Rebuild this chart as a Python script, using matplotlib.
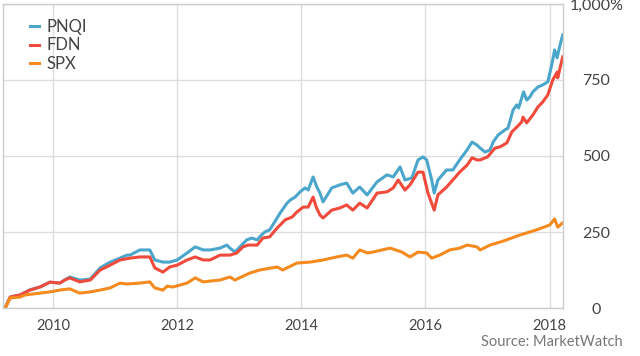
import matplotlib.pyplot as plt

plt.rcParams['font.family'] = ['Lato', 'DejaVu Sans']

# cumulative return in %, dates as decimal years
pnqi_t = [2009.23, 2009.31, 2009.47, 2009.63, 2009.79, 2009.95, 2010.11, 2010.27, 2010.43,
          2010.60, 2010.76, 2010.92, 2011.08, 2011.19, 2011.24, 2011.40, 2011.56, 2011.64,
          2011.77, 2011.88, 2012.00, 2012.16, 2012.29, 2012.42, 2012.53, 2012.69, 2012.80,
          2012.85, 2012.93, 2013.01, 2013.12, 2013.20, 2013.29, 2013.33, 2013.41, 2013.49,
          2013.57, 2013.66, 2013.77, 2013.82, 2013.90, 2013.98, 2014.06, 2014.11, 2014.19,
          2014.25, 2014.30, 2014.35, 2014.49, 2014.62, 2014.73, 2014.83, 2014.94,
          2015.06, 2015.22, 2015.38, 2015.48, 2015.59, 2015.67, 2015.78, 2015.88, 2015.96,
          2016.02, 2016.10, 2016.14, 2016.20, 2016.34, 2016.44, 2016.55, 2016.67, 2016.75,
          2016.83, 2016.88, 2016.96, 2017.04, 2017.09, 2017.17, 2017.28, 2017.33, 2017.41,
          2017.47, 2017.50, 2017.58, 2017.63, 2017.68, 2017.73, 2017.81, 2017.89, 2017.97,
          2018.04, 2018.08, 2018.12, 2018.16, 2018.21]
pnqi = [0, 36, 43, 60, 69, 85, 82, 102, 92,
        95, 132, 151, 164, 174, 174, 191, 191, 158,
        151, 151, 158, 181, 201, 191, 191, 197, 207,
        197, 184, 201, 224, 230, 224, 234, 250, 257,
        283, 313, 345, 355, 365, 382, 395, 388, 431,
        398, 378, 349, 395, 405, 411, 378, 398,
        372, 415, 438, 431, 464, 421, 428, 487, 497,
        487, 421, 378, 421, 454, 454, 487, 520, 546,
        536, 526, 513, 520, 546, 569, 586, 592, 651,
        668, 658, 711, 684, 694, 711, 727, 734, 744,
        806, 849, 823, 859, 898]

fdn_t = [2009.23, 2009.31, 2009.47, 2009.63, 2009.79, 2009.95, 2010.11, 2010.19, 2010.27,
         2010.43, 2010.60, 2010.76, 2010.92, 2011.08, 2011.24, 2011.40, 2011.56, 2011.64,
         2011.77, 2011.88, 2012.00, 2012.16, 2012.29, 2012.42, 2012.53, 2012.69, 2012.80,
         2012.85, 2012.96, 2013.06, 2013.14, 2013.29, 2013.38, 2013.49, 2013.61, 2013.74,
         2013.85, 2013.93, 2014.03, 2014.11, 2014.19, 2014.24, 2014.30, 2014.35, 2014.49,
         2014.62, 2014.73, 2014.83, 2014.94,
         2015.06, 2015.22, 2015.38, 2015.48, 2015.56, 2015.67, 2015.75, 2015.88, 2015.96,
         2016.04, 2016.14, 2016.20, 2016.34, 2016.44, 2016.55, 2016.67, 2016.75, 2016.83,
         2016.88, 2017.00, 2017.12, 2017.20, 2017.31, 2017.39, 2017.47, 2017.55, 2017.57,
         2017.63, 2017.73, 2017.81, 2017.89, 2017.97, 2018.05, 2018.12, 2018.13, 2018.16,
         2018.21]
fdn = [0, 36, 43, 59, 69, 85, 82, 92, 99,
       86, 92, 125, 141, 158, 164, 168, 168, 132,
       118, 135, 141, 158, 168, 158, 158, 174, 174,
       174, 181, 201, 207, 207, 230, 234, 263, 290,
       299, 316, 332, 332, 365, 332, 306, 296, 322,
       329, 339, 322, 345,
       329, 378, 382, 395, 421, 388, 405, 447, 447,
       378, 322, 372, 398, 421, 447, 470, 494, 487,
       487, 497, 526, 530, 543, 579, 595, 612, 628,
       609, 635, 661, 678, 701, 750, 776, 757, 783,
       826]

spx_t = [2009.23, 2009.31, 2009.47, 2009.55, 2009.79, 2009.95, 2010.11, 2010.27, 2010.43,
         2010.60, 2010.76, 2010.92, 2011.08, 2011.19, 2011.40, 2011.56, 2011.64, 2011.77,
         2011.84, 2011.93, 2012.16, 2012.29, 2012.42, 2012.69, 2012.85, 2012.93, 2013.17,
         2013.33, 2013.61, 2013.70, 2013.93, 2014.14, 2014.35, 2014.57, 2014.73, 2014.83,
         2014.94, 2015.07, 2015.15, 2015.43, 2015.62, 2015.75, 2015.88, 2016.02, 2016.10,
         2016.23, 2016.39, 2016.55, 2016.67, 2016.83, 2016.88, 2017.04, 2017.25, 2017.52,
         2017.79, 2018.00, 2018.08, 2018.13, 2018.21]
spx = [0, 33, 36, 43, 49, 53, 59, 63, 49,
       53, 59, 66, 82, 79, 82, 86, 66, 59,
       72, 69, 82, 99, 86, 92, 102, 92, 115,
       125, 135, 125, 148, 151, 158, 168, 174, 164,
       191, 181, 184, 197, 184, 168, 184, 181, 164,
       174, 191, 197, 207, 201, 191, 207, 220, 240,
       257, 273, 293, 266, 280]

series = [('PNQI', pnqi_t, pnqi, '#4ba6cb'),
          ('FDN', fdn_t, fdn, '#ef4a3b'),
          ('SPX', spx_t, spx, '#f58a1f')]

years = [2010, 2012, 2014, 2016, 2018]
yticks = [0, 250, 500, 750, 1000]
ylabels = ['0', '250', '500', '750', '1,000%']

fig = plt.figure(figsize=(6.4, 3.56), dpi=100)
ax = fig.add_axes([0.0047, 0.1348, 0.875, 0.854])

for name, t, v, c in series:
    ax.plot(t, v, color=c, lw=2.2, label=name, solid_joinstyle='round')

ax.set_xlim(2009.195, 2018.215)
ax.set_ylim(0, 1000)
ax.set_xticks(years)
ax.set_xticklabels([str(y) for y in years])
ax.set_yticks(yticks)
ax.set_yticklabels(ylabels)
ax.yaxis.tick_right()
for tl in ax.get_yticklabels():
    tl.set_ha('center')
ax.tick_params(axis='y', length=0, pad=24, labelsize=11.5, labelcolor='#444444')
ax.tick_params(axis='x', length=0, pad=8, labelsize=10.5, labelcolor='#444444')
ax.grid(True, color='#dddddd', lw=1)
ax.set_axisbelow(True)
for s in ax.spines.values():
    s.set_color('#cccccc')
    s.set_linewidth(1)

leg = ax.legend(loc='upper left', bbox_to_anchor=(0.022, 1.0), frameon=False,
                handlelength=0.5, handletextpad=0.45, labelspacing=0.15,
                fontsize=12, borderaxespad=0.5)
for txt in leg.get_texts():
    txt.set_color('#444444')

fig.text(0.973, 0.04, 'Source: MarketWatch', ha='right', va='center',
         fontsize=10.5, color='#777777')

fig.savefig('out.png', dpi=100)
